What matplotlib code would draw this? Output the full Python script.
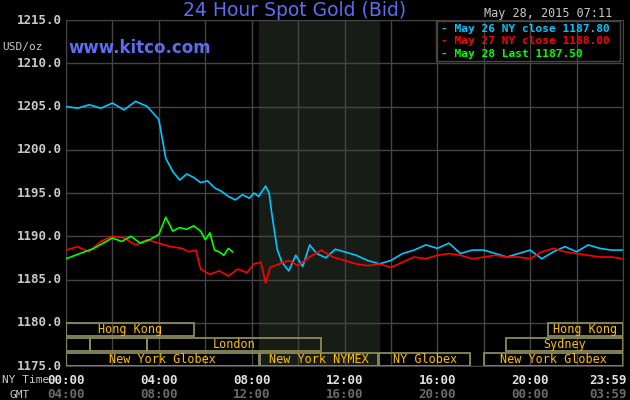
import matplotlib
matplotlib.use("Agg")
import matplotlib.pyplot as plt
from matplotlib.patches import Rectangle

# data: x in hours (NY time)
cyan_x = [0,0.5,1,1.5,2,2.5,3,3.5,4,4.3,4.6,4.9,5.2,5.5,5.8,6.1,6.4,6.7,7,7.3,7.6,7.9,8.1,8.3,8.45,8.6,8.75,8.9,9.1,9.3,9.6,9.9,10.2,10.5,10.8,11.2,11.6,12,12.5,13,13.5,14,14.5,15,15.5,16,16.5,17,17.5,18,18.5,19,19.5,20,20.5,21,21.5,22,22.5,23,23.5,23.98]
cyan_y = [1205,1204.8,1205.2,1204.8,1205.4,1204.6,1205.6,1205,1203.5,1199,1197.5,1196.5,1197.2,1196.8,1196.2,1196.4,1195.6,1195.2,1194.6,1194.2,1194.8,1194.4,1195,1194.6,1195.2,1195.8,1195,1192,1188.5,1187,1186,1187.8,1186.5,1189,1188,1187.5,1188.5,1188.2,1187.8,1187.2,1186.8,1187.2,1188,1188.4,1189,1188.6,1189.2,1188,1188.4,1188.4,1188,1187.6,1188,1188.4,1187.4,1188.2,1188.8,1188.2,1189,1188.6,1188.4,1188.4]
red_x = [0,0.5,1,1.5,2,2.5,3,3.5,4,4.5,5,5.3,5.6,5.8,6.2,6.6,7,7.4,7.8,8.1,8.4,8.6,8.8,9.2,9.6,10,10.5,11,11.5,12,12.5,13,13.5,14,14.5,15,15.5,16,16.5,17,17.5,18,18.5,19,19.5,20,20.5,21,21.5,22,22.5,23,23.5,23.98]
red_y = [1188.4,1188.8,1188.2,1189.4,1190,1189.8,1189,1189.6,1189.2,1188.8,1188.6,1188.2,1188.4,1186.2,1185.6,1186,1185.4,1186.2,1185.8,1186.8,1187,1184.6,1186.4,1186.8,1187.2,1186.6,1187.6,1188.4,1187.6,1187.2,1186.8,1186.6,1186.8,1186.4,1187,1187.6,1187.4,1187.8,1188,1187.8,1187.4,1187.6,1187.8,1187.6,1187.6,1187.4,1188.2,1188.6,1188.2,1188,1187.8,1187.6,1187.6,1187.4]
green_x = [0,0.4,0.8,1.2,1.6,2.0,2.4,2.8,3.2,3.6,4.0,4.3,4.6,4.9,5.2,5.5,5.8,6.0,6.2,6.4,6.6,6.8,7.0,7.18]
green_y = [1187.4,1187.8,1188.2,1188.6,1189.2,1189.8,1189.4,1190,1189.2,1189.6,1190.2,1192.2,1190.6,1191,1190.8,1191.2,1190.6,1189.6,1190.4,1188.4,1188.2,1187.8,1188.6,1188.2]
legend_labels = ["May 26 NY close 1187.80", "May 27 NY close 1188.00", "May 28 Last 1187.50"]
ny_ticks = ["00:00","04:00","08:00","12:00","16:00","20:00","23:59"]
gmt_ticks = ["04:00","08:00","12:00","16:00","20:00","00:00","03:59"]
yticks = [1175,1180,1185,1190,1195,1200,1205,1210,1215]
# sessions: (row, start_h, end_h, label)
sessions = [(0,0,5.5,"Hong Kong"),(0,20.75,24,"Hong Kong"),
            (1,0,1.05,""),(1,1.05,3.5,""),(1,3.5,11.0,"London"),(1,18.95,24,"Sydney"),
            (2,0,8.3,"New York Globex"),(2,8.35,13.45,"New York NYMEX"),(2,13.5,17.4,"NY Globex"),(2,18.0,24,"New York Globex")]

colors = ["#00c8ff", "#ff0000", "#00ff00"]
mono = "DejaVu Sans Mono"
fig = plt.figure(figsize=(6.3,4), dpi=100, facecolor="black")
ax = fig.add_axes([66/630, 34/400, 557/630, 346/400], facecolor="black")
ax.set_xlim(0,24); ax.set_ylim(1175,1215)
ax.axvspan(8.33, 13.5, color="#181c16", zorder=0)
for h in range(0,25,2):
    ax.axvline(h, color="#444444", lw=1, zorder=1)
for y in yticks:
    ax.axhline(y, color="#444444", lw=1, zorder=1)
rowh = 1.5
for r,s,e,lab in sessions:
    y0 = 1180 - (r+1)*rowh - 0.25*r
    ax.add_patch(Rectangle((s,y0), e-s, rowh, fill=False, ec="#8a8a5a", lw=1.3, zorder=3))
    if lab:
        ax.text((s+e)/2, y0+rowh/2, lab, color="#ffc000", fontsize=8.5, family=mono, ha="center", va="center", zorder=4)
ax.plot(cyan_x, cyan_y, color=colors[0], lw=1.2, zorder=5)
ax.plot(red_x, red_y, color=colors[1], lw=1.2, zorder=5)
ax.plot(green_x, green_y, color=colors[2], lw=1.2, zorder=6)
for s in ax.spines.values(): s.set_color("#444444")
ax.set_xticks([]); ax.set_yticks([])
for y in yticks:
    fig.text(62/630, (34+(y-1175)*346/40)/400, f"{y:.1f}", color="#c8c8c8", fontsize=9, family=mono, weight="bold", ha="right", va="center")
fig.text(2/630, 1-47/400, "USD/oz", color="#c8c8c8", fontsize=8, family=mono, va="center")
xs = [0,4,8,12,16,20,24]
for h,a,b in zip(xs, ny_ticks, gmt_ticks):
    fx = (66 + h*557/24)/630
    ha = "right" if h==24 else "center"
    if h==24: fx = 627/630
    fig.text(fx, 1-380/400, a, color="#e0e0e0", fontsize=9, family=mono, weight="bold", ha=ha, va="center")
    fig.text(fx, 1-395/400, b, color="#6a6a6a", fontsize=9, family=mono, weight="bold", ha=ha, va="center")
fig.text(2/630, 1-380/400, "NY Time", color="#c8c8c8", fontsize=8, family=mono, va="center")
fig.text(10/630, 1-395/400, "GMT", color="#c8c8c8", fontsize=8, family=mono, va="center")
fig.text(295/630, 1-11/400, "24 Hour Spot Gold (Bid)", color="#5a6ef0", fontsize=13.5, ha="center", va="center")
fig.text(68/630, 1-48/400, "www.kitco.com", color="#5a6ef0", fontsize=12, weight="bold", va="center")
fig.text(612/630, 1-14/400, "May 28, 2015 07:11", color="#c8c8c8", fontsize=8.5, family=mono, ha="right", va="center")
for i,(lab,c) in enumerate(zip(legend_labels, colors)):
    fig.text(441/630, 1-(29+12.5*i)/400, "- "+lab, color=c, fontsize=8, family=mono, weight="bold", va="center")
ax.add_patch(Rectangle((436/630, 1-61/400), 184/630, 40/400, transform=fig.transFigure, fill=False, ec="#444444", lw=1, zorder=7))
fig.savefig("out.png", dpi=100, facecolor="black")
